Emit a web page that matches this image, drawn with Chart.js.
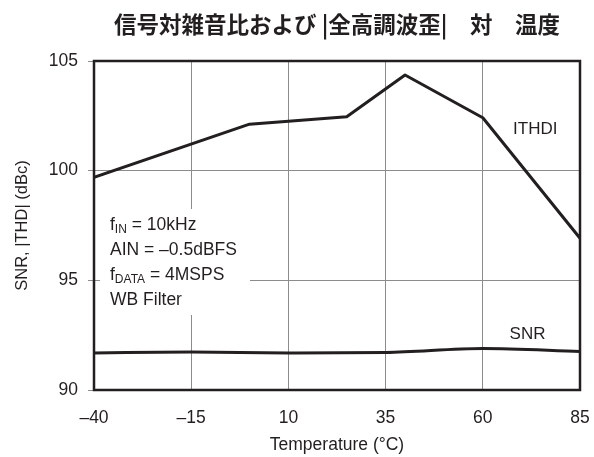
<!DOCTYPE html>
<html>
<head>
<meta charset="utf-8">
<script src="https://cdn.jsdelivr.net/npm/chart.js@4/dist/chart.umd.min.js"></script>
<style>
  html, body { margin: 0; padding: 0; background: #ffffff; }
  #wrap { width: 594px; height: 457px; position: relative; }
</style>
</head>
<body>
<div id="wrap"><canvas id="c" width="594" height="457"></canvas></div>
<script>
// ---- data ----
const chartTitle = "信号対雑音比および |全高調波歪|　対　温度";
const xTitle = "Temperature (°C)";
const yTitle = "SNR, |THD| (dBc)";
const xTicks = [-40, -15, 10, 35, 60, 85];
const yTicks = [90, 95, 100, 105];
const thdTemps = [-40, 0, 25, 40, 60, 85];
const thdValues = [99.7, 102.12, 102.46, 104.36, 102.41, 96.92];
const snrTemps = [-40, -15, 10, 35, 60, 85];
const snrValues = [91.69, 91.73, 91.69, 91.71, 91.89, 91.76];
const seriesLabels = ["ITHDI", "SNR"];
const conditions = [
  [["f", false], ["IN", true], [" = 10kHz", false]],
  [["AIN = \u20130.5dBFS", false]],
  [["f", false], ["DATA", true], [" = 4MSPS", false]],
  [["WB Filter", false]]
];

const INK = "#231f20";
const GRID = "#8c8c8c";
const FONT = "'Liberation Sans', Arial, Helvetica, sans-serif";

const toPts = (xs, ys) => xs.map((x, i) => ({ x: x, y: ys[i] }));

const overlay = {
  id: "overlay",
  afterDatasetsDraw(chart) {
    const { ctx, chartArea: a, scales } = chart;
    const xs = scales.x, ys = scales.y;
    ctx.save();
    // conditions box (covers gridlines)
    ctx.fillStyle = "#ffffff";
    ctx.fillRect(a.left + 6, 209, 150, 106);
    ctx.fillStyle = INK;
    ctx.textBaseline = "middle";
    const lineY = [225, 250, 275, 300];
    conditions.forEach((parts, i) => {
      let x = a.left + 16;
      parts.forEach(([t, sub]) => {
        ctx.font = (sub ? "12px " : "17.5px ") + FONT;
        ctx.fillText(t, x, lineY[i] + (sub ? 5 : 0));
        x += ctx.measureText(t).width;
      });
    });
    // series labels
    ctx.font = "17px " + FONT;
    ctx.textAlign = "center";
    ctx.fillText(seriesLabels[0], xs.getPixelForValue(73.5), ys.getPixelForValue(101.88));
    ctx.fillText(seriesLabels[1], xs.getPixelForValue(71.5), ys.getPixelForValue(92.55));
    // frame
    ctx.strokeStyle = INK;
    ctx.lineWidth = 2.5;
    ctx.strokeRect(a.left, a.top, a.right - a.left, a.bottom - a.top);
    // title
    ctx.font = "bold 22.5px 'Noto Sans CJK JP', sans-serif";
    ctx.textAlign = "center";
    ctx.fillStyle = INK;
    ctx.fillText(chartTitle, (a.left + a.right) / 2, 24);
    ctx.restore();
  }
};

new Chart(document.getElementById("c"), {
  type: "line",
  data: {
    datasets: [
      {
        label: seriesLabels[0],
        data: toPts(thdTemps, thdValues),
        borderColor: INK, borderWidth: 3, pointRadius: 0, tension: 0,
        borderJoinStyle: "round", fill: false
      },
      {
        label: seriesLabels[1],
        data: toPts(snrTemps, snrValues),
        borderColor: INK, borderWidth: 3, pointRadius: 0,
        cubicInterpolationMode: "monotone", fill: false
      }
    ]
  },
  options: {
    responsive: false,
    animation: false,
    devicePixelRatio: 1,
    layout: { padding: { top: 61, right: 0, left: 0, bottom: 0 } },
    plugins: { legend: { display: false }, tooltip: { enabled: false }, title: { display: false } },
    scales: {
      x: {
        type: "linear", min: -40, max: 85,
        afterBuildTicks: s => { s.ticks = xTicks.map(v => ({ value: v })); },
        afterFit: s => { s.height = 67; s.paddingRight = 14; s.paddingLeft = 0; },
        grid: { color: GRID, lineWidth: 1, drawTicks: false },
        border: { display: false },
        ticks: {
          color: INK, padding: 18, maxRotation: 0, autoSkip: false,
          font: { family: FONT, size: 17.5 },
          callback: v => String(v).replace("-", "\u2013")
        },
        title: { display: true, text: xTitle, color: INK, font: { family: FONT, size: 17.5 }, padding: { top: 0, bottom: 1 } }
      },
      y: {
        type: "linear", min: 90, max: 105,
        afterBuildTicks: s => { s.ticks = yTicks.map(v => ({ value: v })); },
        afterFit: s => { s.width = 94; },
        grid: { color: GRID, lineWidth: 1, drawTicks: true, tickLength: 6 },
        border: { display: false },
        ticks: { color: INK, padding: 10, font: { family: FONT, size: 17.5 } },
        title: { display: true, text: yTitle, color: INK, font: { family: FONT, size: 16.5 }, padding: { top: 13, bottom: 0 } }
      }
    }
  },
  plugins: [overlay]
});
</script>
</body>
</html>
